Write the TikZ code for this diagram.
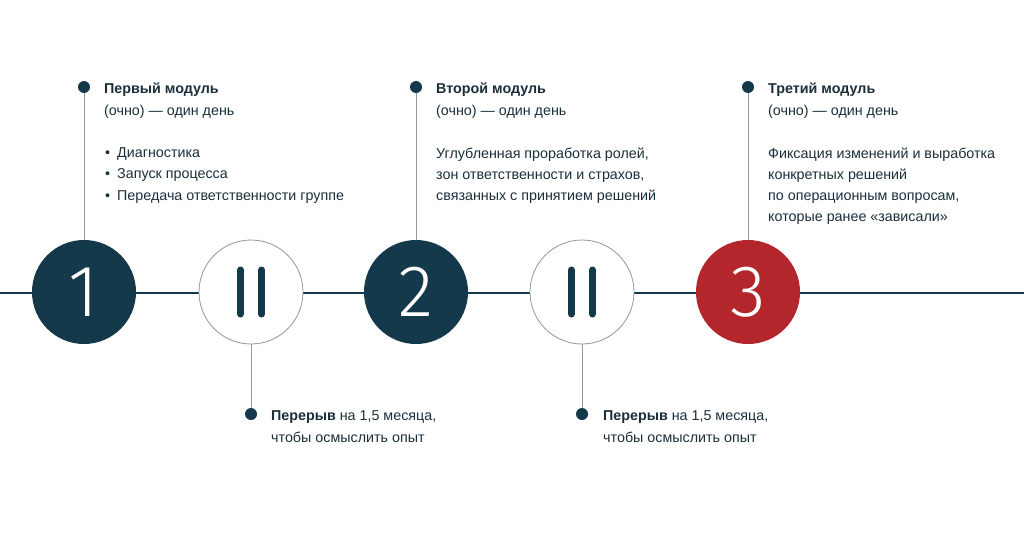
\documentclass[tikz,border=0pt]{standalone}
\usepackage{fontspec}
\setmainfont{Liberation Sans}
\newfontfamily\numfont{Fira Sans Light}
\begin{document}
\begin{tikzpicture}[x=1pt,y=-1pt,
  txt/.style={anchor=base west,inner sep=0pt,text=textc,font=\fontsize{14.3}{21.5}\selectfont},
  bold/.style={txt,font=\fontsize{14.3}{21.5}\selectfont\bfseries},
  stage/.style={circle,minimum size=104pt,inner sep=0pt,text=white,font=\numfont\fontsize{73}{73}\selectfont},
  pausec/.style={circle,minimum size=104pt,inner sep=0pt,draw=greyc,line width=0.8pt,fill=white},
  dotn/.style={circle,fill=navy,minimum size=12pt,inner sep=0pt},
  conn/.style={draw=greyc,line width=1pt},
  bar/.style={line width=7pt,line cap=round,draw=navy}]
\definecolor{navy}{HTML}{14394B}
\definecolor{redc}{HTML}{B3262B}
\definecolor{greyc}{HTML}{8A99A3}
\definecolor{textc}{HTML}{1B2F3B}
\useasboundingbox[fill=white] (0,0) rectangle (1024,536);
\coordinate (L) at (0,293);
\coordinate (R) at (1024,293);
\draw[navy,line width=2pt] (L) -- (R);
% stages
\node[stage,fill=navy] (c1) at (84,292) {1};
\node[pausec] (p1) at (251,292) {};
\node[stage,fill=navy] (c2) at (416,292) {2};
\node[pausec] (p2) at (582,292) {};
\node[stage,fill=redc] (c3) at (748,292) {3};
% pause bars
\draw[bar] (240.5,270) -- (240.5,314);
\draw[bar] (261.5,270) -- (261.5,314);
\draw[bar] (571.5,270) -- (571.5,314);
\draw[bar] (592.5,270) -- (592.5,314);
% dots
\node[dotn] (d1) at (84,87) {};
\node[dotn] (d2) at (416,87) {};
\node[dotn] (d3) at (748,87) {};
\node[dotn] (e1) at (251,414) {};
\node[dotn] (e2) at (582,414) {};
\draw[conn] (d1) -- (c1);
\draw[conn] (d2) -- (c2);
\draw[conn] (d3) -- (c3);
\draw[conn] (p1) -- (e1);
\draw[conn] (p2) -- (e2);
% texts module 1
\node[bold] (t1) at (104,93) {Первый модуль};
\node[txt] (s1) at (104,115) {(очно) — один день};
\node[txt] (b1) at (105,157) {•};
\node[txt] (b2) at (105,178) {•};
\node[txt] (b3) at (105,200) {•};
\node[txt] (l1) at (117,157) {Диагностика};
\node[txt] (l2) at (117,178) {Запуск процесса};
\node[txt] (l3) at (117,200) {Передача ответственности группе};
% module 2
\node[bold] (t2) at (436,93) {Второй модуль};
\node[txt] (s2) at (436,115) {(очно) — один день};
\node[txt] (q2a) at (436,158) {Углубленная проработка ролей,};
\node[txt] (q2b) at (436,179) {зон ответственности и страхов,};
\node[txt] (q2c) at (436,200) {связанных с принятием решений};
% module 3
\node[bold] (t3) at (768,93) {Третий модуль};
\node[txt] (s3) at (768,115) {(очно) — один день};
\node[txt] (q3a) at (768,158) {Фиксация изменений и выработка};
\node[txt] (q3b) at (768,179) {конкретных решений};
\node[txt] (q3c) at (768,200) {по операционным вопросам,};
\node[txt] (q3d) at (768,221) {которые ранее «зависали»};
% pauses
\node[txt] (r1a) at (271,420) {\textbf{Перерыв} на 1,5 месяца,};
\node[txt] (r1b) at (271,442) {чтобы осмыслить опыт};
\node[txt] (r2a) at (603,420) {\textbf{Перерыв} на 1,5 месяца,};
\node[txt] (r2b) at (603,442) {чтобы осмыслить опыт};
\end{tikzpicture}
\end{document}
